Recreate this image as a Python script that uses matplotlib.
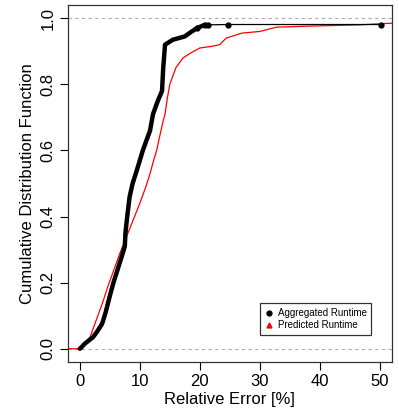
import matplotlib
matplotlib.use("Agg")
import numpy as np
from matplotlib import pyplot as plt
from matplotlib.lines import Line2D

plt.rcParams['font.family'] = ['Liberation Sans', 'DejaVu Sans']

# aggregated runtime cdf
agg_x = [0, 0.3, 0.8, 1.5, 2.2, 2.8, 3.7, 4.3, 5.0, 5.6, 6.3, 7.0, 7.5, 7.6, 7.9,
         8.3, 8.8, 9.5, 10.0, 10.5, 11.1, 11.7, 12.0, 12.2, 13.0, 13.7, 13.9,
         14.2, 15.5, 16.5, 17.5, 18.5, 19.5, 20.8]
agg_y = [0, 0.005, 0.015, 0.025, 0.035, 0.05, 0.075, 0.11, 0.16, 0.2, 0.24, 0.28,
         0.31, 0.35, 0.40, 0.46, 0.50, 0.54, 0.57, 0.60, 0.63, 0.66, 0.69, 0.71,
         0.75, 0.78, 0.85, 0.92, 0.935, 0.94, 0.945, 0.958, 0.97, 0.98]
agg_tail_x = [19.5, 20.8, 21.3, 24.7, 50.2]
agg_tail_y = [0.97, 0.98, 0.98, 0.981, 0.981]

# predicted runtime cdf
pred_x = [-2, 0, 0.6, 1.7, 2.8, 3.8, 4.7, 5.5, 6.7, 7.8, 8.9, 10, 11.0, 11.7, 12.3,
          12.8, 13.4, 13.9, 14.2, 14.6, 15, 16, 17.2, 18.5, 20, 22, 23.3, 24.4,
          27, 30, 32.8, 38, 46.7, 52]
pred_y = [0, 0, 0.01, 0.035, 0.09, 0.14, 0.19, 0.23, 0.29, 0.34, 0.39, 0.44, 0.49,
          0.53, 0.57, 0.60, 0.65, 0.69, 0.71, 0.76, 0.80, 0.85, 0.88, 0.895, 0.91,
          0.915, 0.92, 0.94, 0.955, 0.96, 0.973, 0.976, 0.98, 0.985]

xticks = [0, 10, 20, 30, 40, 50]
yticks = [0.0, 0.2, 0.4, 0.6, 0.8, 1.0]

fig = plt.figure(figsize=(3.99, 4.18), dpi=100)
ax = fig.add_axes([0.170, 0.134, 0.812, 0.854])

ax.axhline(0, color='#aaaaaa', ls=(0, (3, 3)), lw=0.8, zorder=1)
ax.axhline(1, color='#aaaaaa', ls=(0, (3, 3)), lw=0.8, zorder=1)

ax.plot(pred_x, pred_y, color='red', lw=0.9, zorder=2)
ax.plot(agg_x, agg_y, color='black', lw=3.2, solid_capstyle='round', zorder=3)
ax.plot(agg_tail_x, agg_tail_y, color='black', lw=0.9, marker='o', ms=3.5, zorder=3)

ax.set_xlim(-2, 52)
ax.set_ylim(-0.04, 1.04)
ax.set_xticks(xticks)
ax.set_yticks(yticks)
ax.set_yticklabels(['%.1f' % v for v in yticks], rotation=90, va='center')
ax.tick_params(direction='out', length=6, width=0.8, labelsize=12, pad=3)
for s in ax.spines.values():
    s.set_linewidth(0.9)
    s.set_color('#333333')

ax.set_xlabel('Relative Error [%]', fontsize=12, labelpad=2)
ax.set_ylabel('Cumulative Distribution Function', fontsize=12, labelpad=4)

handles = [Line2D([], [], color='black', marker='o', ls='none', ms=3.5),
           Line2D([], [], color='red', marker='^', ls='none', ms=3.5)]
leg = ax.legend(handles, ['Aggregated Runtime', 'Predicted Runtime'],
                loc='lower left', bbox_to_anchor=(0.593, 0.076, 0.342, 0.098),
                mode='expand', fontsize=7, frameon=True, fancybox=False,
                handlelength=0.8, handletextpad=0.6, borderpad=0.5,
                labelspacing=0.2, borderaxespad=0)
leg.get_frame().set_edgecolor('black')
leg.get_frame().set_linewidth(0.9)

fig.savefig('out.png', dpi=100)
